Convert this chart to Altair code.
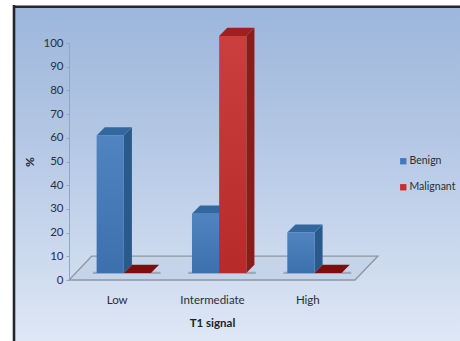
import altair as alt
import pandas as pd

CATEGORIES = ["Low", "Intermediate", "High"]
SERIES = ["Benign", "Malignant"]
BENIGN = [58, 25, 17]
MALIGNANT = [0, 100, 0]

Y_TICKS = list(range(0, 101, 10))

FRONT = {"Benign": "#4279BC", "Malignant": "#C62F2E"}
SIDE = {"Benign": "#2A5A8C", "Malignant": "#8A1C1A"}
TOP = {"Benign": "#33689F", "Malignant": "#9E2120"}
ZERO_TOP = "#7C0F0E"
TEXT = "#2b2f36"
FONT = "Lato"

# 3-D look: bars rest slightly in front of the floor's back edge and recede by a fixed depth
BASE = 3.0
DEPTH_X = 0.085
DEPTH_Y = 3.4
BAR_W = 0.285
FLOOR_DEPTH_Y = 10.1
FLOOR_DEPTH_X = 0.24

fronts, sides, tops = [], [], []
for name, values in zip(SERIES, (BENIGN, MALIGNANT)):
    for i, v in enumerate(values):
        left = i + 0.5 - 0.21 + (BAR_W if name == "Malignant" else 0)
        right = left + BAR_W
        key = f"{name}-{i}"
        fronts.append(dict(series=name, x=left, x2=right, y=BASE, y2=BASE + v))
        sides += [
            dict(series=name, key=key, x=right, y=BASE, y2=BASE + v),
            dict(series=name, key=key, x=right + DEPTH_X, y=BASE + DEPTH_Y, y2=BASE + v + DEPTH_Y),
        ]
        tops += [
            dict(series=name, key=key, v=v, y=BASE + v, x=left, x2=right),
            dict(series=name, key=key, v=v, y=BASE + v + DEPTH_Y, x=left + DEPTH_X, x2=right + DEPTH_X),
        ]
fronts, sides, tops = map(pd.DataFrame, (fronts, sides, tops))

# Soft contact shadow running along the front edge of each category's pair of bars
shadows = pd.DataFrame(
    [
        dict(x=i + 0.5 - 0.25, x2=i + 0.5 - 0.21 + 2 * BAR_W + 0.1, y=BASE - 0.5, y2=BASE + 0.5)
        for i in range(len(CATEGORIES))
    ]
)

floor = pd.DataFrame(
    [
        dict(y=0, x=0, x2=3),
        dict(y=FLOOR_DEPTH_Y, x=FLOOR_DEPTH_X, x2=3 + FLOOR_DEPTH_X),
    ]
)

x_scale = alt.Scale(domain=[0, 3], nice=False, zero=False)
y_scale = alt.Scale(domain=[0, 100], nice=False)

x_axis = alt.Axis(
    values=[0.5, 1.5, 2.5],
    labelExpr=f"{CATEGORIES}[floor(datum.value)]",
    title="T1 signal",
    domain=False,
    ticks=False,
    grid=False,
    labelAngle=0,
    labelPadding=14,
    labelFont=FONT,
    labelFontSize=11.5,
    labelColor=TEXT,
    titleFont=FONT,
    titleFontSize=11.5,
    titleFontWeight="bold",
    titleColor="#1c1f24",
    titlePadding=12,
    zindex=1,
)
y_axis = alt.Axis(
    values=Y_TICKS,
    title="%",
    grid=False,
    domainColor="#93A5C2",
    tickColor="#93A5C2",
    tickSize=3,
    labelOverlap=False,
    labelPadding=3,
    labelFont=FONT,
    labelFontSize=11.5,
    labelColor=TEXT,
    titleFont=FONT,
    titleFontSize=12,
    titleFontWeight="bold",
    titleColor="#1c1f24",
    titlePadding=6,
    zindex=1,
)

# Every layer shares one definition of each position channel, so the axes merge cleanly
shared_x = alt.X("x:Q", scale=x_scale, axis=x_axis)
shared_y = alt.Y("y:Q", scale=y_scale, axis=y_axis)

one_row = alt.Data(values=[{"a": 1}])

backdrop = (
    alt.Chart(one_row)
    .mark_rect(
        color=alt.LinearGradient(
            gradient="linear",
            x1=0, y1=0, x2=0, y2=1,
            stops=[
                alt.GradientStop(color="#9DB6DC", offset=0),
                alt.GradientStop(color="#B7CAE6", offset=0.45),
                alt.GradientStop(color="#DEE7F5", offset=1),
            ],
        )
    )
    .encode(x=alt.value(-54), x2=alt.value(391), y=alt.value(-35), y2=alt.value(298))
)
border_left = (
    alt.Chart(one_row)
    .mark_rule(color="#25262a", strokeWidth=2.6)
    .encode(x=alt.value(-55), y=alt.value(-38), y2=alt.value(298))
)
border_top = (
    alt.Chart(one_row)
    .mark_rule(color="#25262a", strokeWidth=2.6)
    .encode(y=alt.value(-36.3), x=alt.value(-56), x2=alt.value(391))
)

floor_layer = (
    alt.Chart(floor)
    .mark_area(orient="horizontal", color="#C6D4EA", stroke="#8E96A3", strokeWidth=1.3, clip=False)
    .encode(x=shared_x, x2="x2:Q", y=shared_y)
)

shadow_layer = (
    alt.Chart(shadows)
    .mark_bar(color="#8E96A3", opacity=0.7, clip=False)
    .encode(x=shared_x, x2="x2:Q", y=shared_y, y2="y2:Q")
)


def side_layer(name):
    return (
        alt.Chart(sides[sides.series == name])
        .mark_area(color=SIDE[name], clip=False)
        .encode(x=shared_x, y=shared_y, y2="y2:Q", detail="key:N")
    )


def top_layer(name):
    part = tops[tops.series == name]
    raised = part[part.v > 0]
    flat = part[part.v == 0]
    layers = []
    for frame, colour in ((raised, TOP[name]), (flat, ZERO_TOP)):
        if len(frame):
            layers.append(
                alt.Chart(frame)
                .mark_area(orient="horizontal", color=colour, clip=False)
                .encode(x=shared_x, x2="x2:Q", y=shared_y, detail="key:N")
            )
    return layers


front_layer = (
    alt.Chart(fronts)
    .mark_bar(clip=False)
    .encode(
        x=shared_x,
        x2="x2:Q",
        y=shared_y,
        y2="y2:Q",
        color=alt.Color(
            "series:N",
            scale=alt.Scale(domain=SERIES, range=[FRONT[s] for s in SERIES]),
            legend=alt.Legend(
                title=None,
                orient="none",
                legendX=329,
                legendY=113,
                symbolType="square",
                symbolSize=40,
                labelFont=FONT,
                labelFontSize=10.5,
                labelColor=TEXT,
                labelOffset=1,
                rowPadding=15,
                symbolStrokeWidth=0,
            ),
        ),
    )
)

# Gentle vertical sheen over the front faces: lighter at the top, darker at the foot
sheen_layer = (
    alt.Chart(fronts[fronts.y2 > fronts.y])
    .mark_bar(
        clip=False,
        color=alt.LinearGradient(
            gradient="linear",
            x1=0, y1=0, x2=0, y2=1,
            stops=[
                alt.GradientStop(color="rgba(255,255,255,0.08)", offset=0),
                alt.GradientStop(color="rgba(0,0,0,0.08)", offset=1),
            ],
        ),
    )
    .encode(x=shared_x, x2="x2:Q", y=shared_y, y2="y2:Q")
)

layers = [backdrop, border_left, border_top, floor_layer, shadow_layer]
for name in SERIES:
    layers.append(side_layer(name))
    layers.extend(top_layer(name))
layers += [front_layer, sheen_layer]

chart = alt.layer(*layers).properties(
    width=286,
    height=237,
    padding={"left": 69, "top": 43, "right": 105, "bottom": 61},
    autosize=alt.AutoSizeParams(type="none"),
    background="white",
).configure_view(stroke=None)

chart.save("out.html", embed_options={"renderer": "svg", "actions": False})
